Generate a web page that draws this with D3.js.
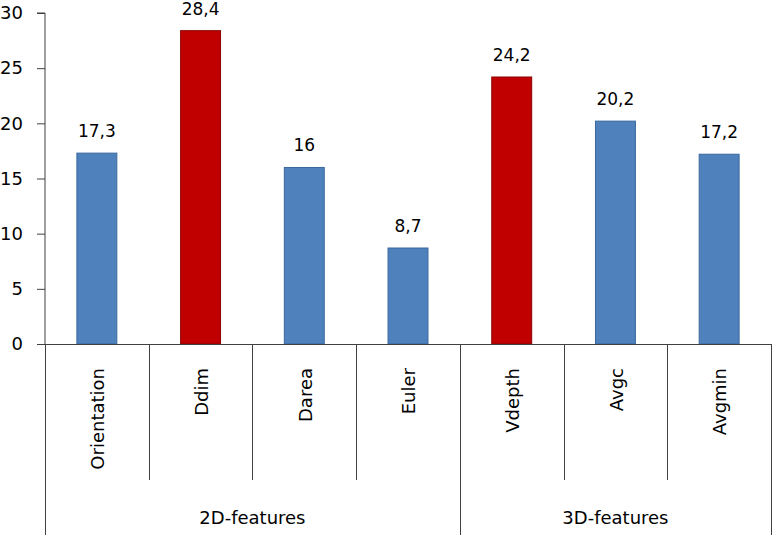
<!DOCTYPE html>
<html><head><meta charset="utf-8">
<script src="https://cdn.jsdelivr.net/npm/d3@7"></script>
<style>body{margin:0;background:#fff}svg{display:block}text{font-family:"DejaVu Sans",Verdana,sans-serif;fill:#000}</style>
</head><body>
<svg id="c" width="774" height="535"></svg>
<script>
const categories = ["Orientation","Ddim","Darea","Euler","Vdepth","Avgc","Avgmin"];
const values = [17.3, 28.4, 16, 8.7, 24.2, 20.2, 17.2];
const labels = ["17,3","28,4","16","8,7","24,2","20,2","17,2"];
const highlighted = [false, true, false, false, true, false, false];
const groups = [{name:"2D-features", start:0, count:4},{name:"3D-features", start:4, count:3}];
const yTicks = [0,5,10,15,20,25,30];

(function(){
const svg = d3.select("#c");
const mLeft = 45, mRight = 771, mTop = 13, mBottom = 344;
const x = d3.scaleBand().domain(categories).range([mLeft, mRight]).paddingInner(0.615).paddingOuter(0.3075);
const y = d3.scaleLinear().domain([0,30]).range([mBottom, mTop]);
const step = x.step();
const bandStart = i => mLeft + i*step;

// bars
svg.selectAll("rect.bar").data(categories).enter().append("rect")
  .attr("x", d => x(d)).attr("y", (d,i) => y(values[i]))
  .attr("width", x.bandwidth()).attr("height", (d,i) => y(0) - y(values[i]))
  .attr("fill", (d,i) => highlighted[i] ? "#C00000" : "#4F81BD")
  .attr("stroke", (d,i) => highlighted[i] ? "#8C0000" : "#3A679C").attr("stroke-width", 1);

// value labels
svg.selectAll("text.val").data(categories).enter().append("text")
  .attr("x", d => x(d) + x.bandwidth()/2).attr("y", (d,i) => y(values[i]) - 16)
  .attr("text-anchor","middle").attr("font-size", 17).text((d,i) => labels[i]);

// y axis
const yAxis = d3.axisLeft(y).tickValues(yTicks).tickSize(8).tickPadding(14).tickFormat(d3.format("d"));
const ga = svg.append("g").attr("transform", `translate(${mLeft},0)`).call(yAxis);
ga.select(".domain").attr("stroke","#404040").attr("d", `M-8,${mTop}H0V${mBottom}`);
ga.selectAll(".tick line").attr("stroke","#404040");
ga.selectAll(".tick text").attr("font-size", 18).style("font-family",'"DejaVu Sans",Verdana,sans-serif').attr("fill","#000");

// x axis baseline
svg.append("line").attr("x1", mLeft).attr("x2", mRight).attr("y1", mBottom+0.5).attr("y2", mBottom+0.5).attr("stroke","#404040");

// category separators
const groupBounds = new Set();
groups.forEach(g => { groupBounds.add(g.start); groupBounds.add(g.start+g.count); });
for (let i = 0; i <= categories.length; i++) {
  const xx = Math.round(bandStart(i)) + 0.5;
  svg.append("line").attr("x1", xx).attr("x2", xx).attr("y1", mBottom)
    .attr("y2", groupBounds.has(i) ? 535 : 480).attr("stroke","#404040");
}

// category labels
svg.selectAll("text.cat").data(categories).enter().append("text")
  .attr("transform", d => `translate(${x(d)+x.bandwidth()/2+1},368) rotate(-90)`)
  .attr("text-anchor","end").attr("dy","0.35em").attr("font-size", 18).text(d => d);

// group labels
groups.forEach(g => {
  const cx = (bandStart(g.start) + bandStart(g.start+g.count))/2;
  svg.append("text").attr("x", cx).attr("y", 524).attr("text-anchor","middle").attr("font-size", 18).text(g.name);
});
})();
</script>
</body></html>
